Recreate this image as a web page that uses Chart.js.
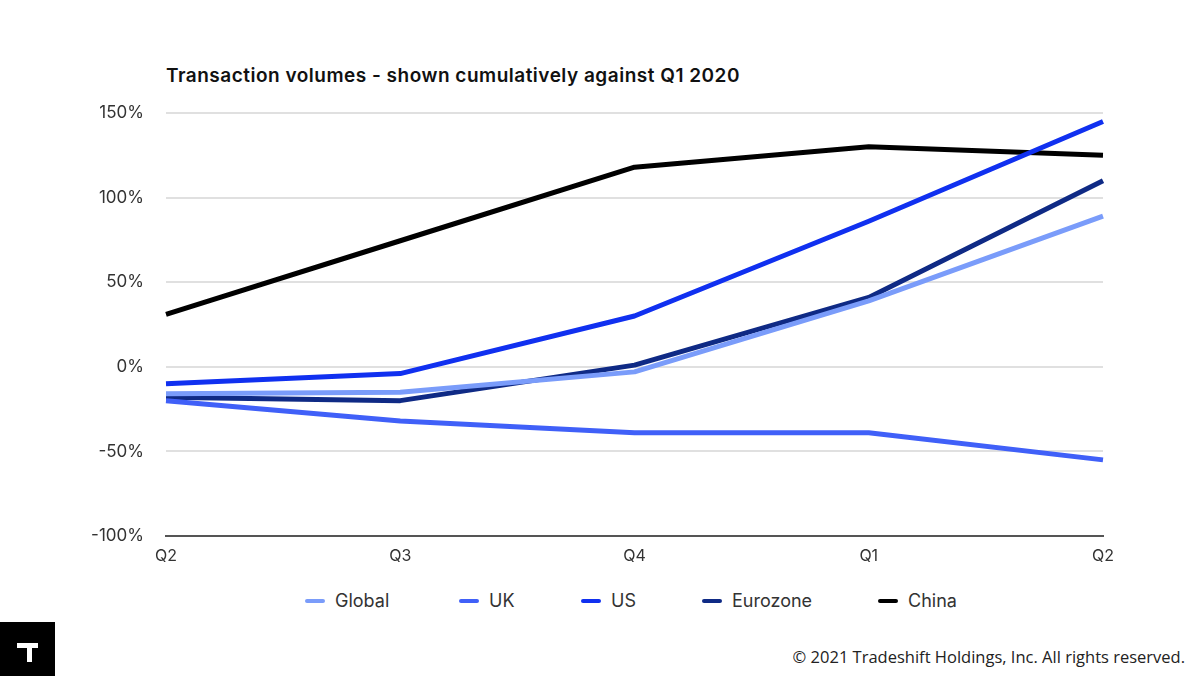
<!DOCTYPE html>
<html>
<head>
<meta charset="utf-8">
<script src="https://cdn.jsdelivr.net/npm/chart.js@4.4.0/dist/chart.umd.min.js"></script>
<style>
  html, body { margin: 0; padding: 0; background: #fff; width: 1200px; height: 676px; overflow: hidden; }
  #wrap { position: absolute; left: 0; top: 0; width: 1200px; height: 576px; }
  #title { position: absolute; left: 166px; top: 64px; font-family: Inter, "Noto Sans", sans-serif; font-weight: 600; font-size: 19px; color: #111; letter-spacing: 0.5px; }
  #legend { position: absolute; top: 589px; left: 0; width: 1200px; height: 24px; font-family: Inter, "Noto Sans", sans-serif; font-size: 18px; color: #333; }
  .li { position: absolute; top: 0; height: 24px; line-height: 24px; white-space: nowrap; }
  .li span.m { display: inline-block; width: 20px; height: 4px; border-radius: 2px; vertical-align: middle; margin-right: 10px; position: relative; top: -1px; }
  #footer { position: absolute; right: 15px; top: 645px; font-family: "Open Sans", "Noto Sans", sans-serif; font-size: 16.5px; color: #222; }
  #logo { position: absolute; left: 0; top: 622px; width: 55px; height: 54px; background: #000; }
</style>
</head>
<body>
<div id="title">Transaction volumes - shown cumulatively against Q1 2020</div>
<div id="wrap"><canvas id="c" width="1200" height="576"></canvas></div>
<div id="legend"></div>
<div id="footer">© 2021 Tradeshift Holdings, Inc. All rights reserved.</div>
<div id="logo"><svg width="55" height="54"><rect x="17" y="21" width="4" height="5" fill="#fff"/><rect x="17" y="21" width="21" height="5" fill="#fff"/><rect x="27" y="21" width="5" height="19" fill="#fff"/></svg></div>
<script>
const categories = ["Q2", "Q3", "Q4", "Q1", "Q2"];
const seriesNames = ["Global", "UK", "US", "Eurozone", "China"];
const seriesColors = ["#7a9cfa", "#4060f8", "#1030f0", "#0f2a85", "#000000"];
const globalValues = [-16, -15, -3, 39, 89];
const ukValues = [-20, -32, -39, -39, -55];
const usValues = [-10, -4, 30, 86, 145];
const eurozoneValues = [-18, -20, 1, 41, 110];
const chinaValues = [31, 74.5, 118, 130, 125];
const yTicks = [-100, -50, 0, 50, 100, 150];
const legendX = [305, 459, 581, 702, 878];

const seriesValues = [globalValues, ukValues, usValues, eurozoneValues, chinaValues];

const datasets = seriesNames.map((n, i) => ({
  label: n,
  data: seriesValues[i],
  borderColor: seriesColors[i],
  backgroundColor: seriesColors[i],
  borderWidth: 5,
  pointRadius: 0,
  pointHoverRadius: 0,
  tension: 0,
  fill: false,
  borderCapStyle: 'butt',
  borderJoinStyle: 'round'
}));

new Chart(document.getElementById('c'), {
  type: 'line',
  data: { labels: categories, datasets },
  options: {
    responsive: false,
    animation: false,
    events: [],
    layout: { padding: { top: 113, right: 97, bottom: 0, left: 0 } },
    plugins: { legend: { display: false }, tooltip: { enabled: false }, title: { display: false } },
    scales: {
      x: {
        offset: false,
        grid: { display: false, drawTicks: false },
        border: { display: true, color: '#555', width: 2 },
        ticks: { color: '#333', padding: 11, font: { family: 'Inter, "Noto Sans", sans-serif', size: 16 }, maxRotation: 0, autoSkip: false },
        afterFit: s => { s.height = 40; }
      },
      y: {
        min: -100, max: 150,
        afterBuildTicks: s => { s.ticks = yTicks.map(v => ({ value: v })); },
        grid: { color: '#e0e0e0', lineWidth: 2, drawTicks: false },
        border: { display: false },
        ticks: { color: '#333', padding: 22, font: { family: 'Inter, "Noto Sans", sans-serif', size: 17 }, callback: v => v + '%' },
        afterFit: s => { s.width = 166; }
      }
    }
  }
});

const lg = document.getElementById('legend');
seriesNames.forEach((n, i) => {
  const d = document.createElement('div');
  d.className = 'li';
  d.style.left = legendX[i] + 'px';
  d.innerHTML = '<span class="m" style="background:' + seriesColors[i] + '"></span>' + n;
  lg.appendChild(d);
});
</script>
</body>
</html>
